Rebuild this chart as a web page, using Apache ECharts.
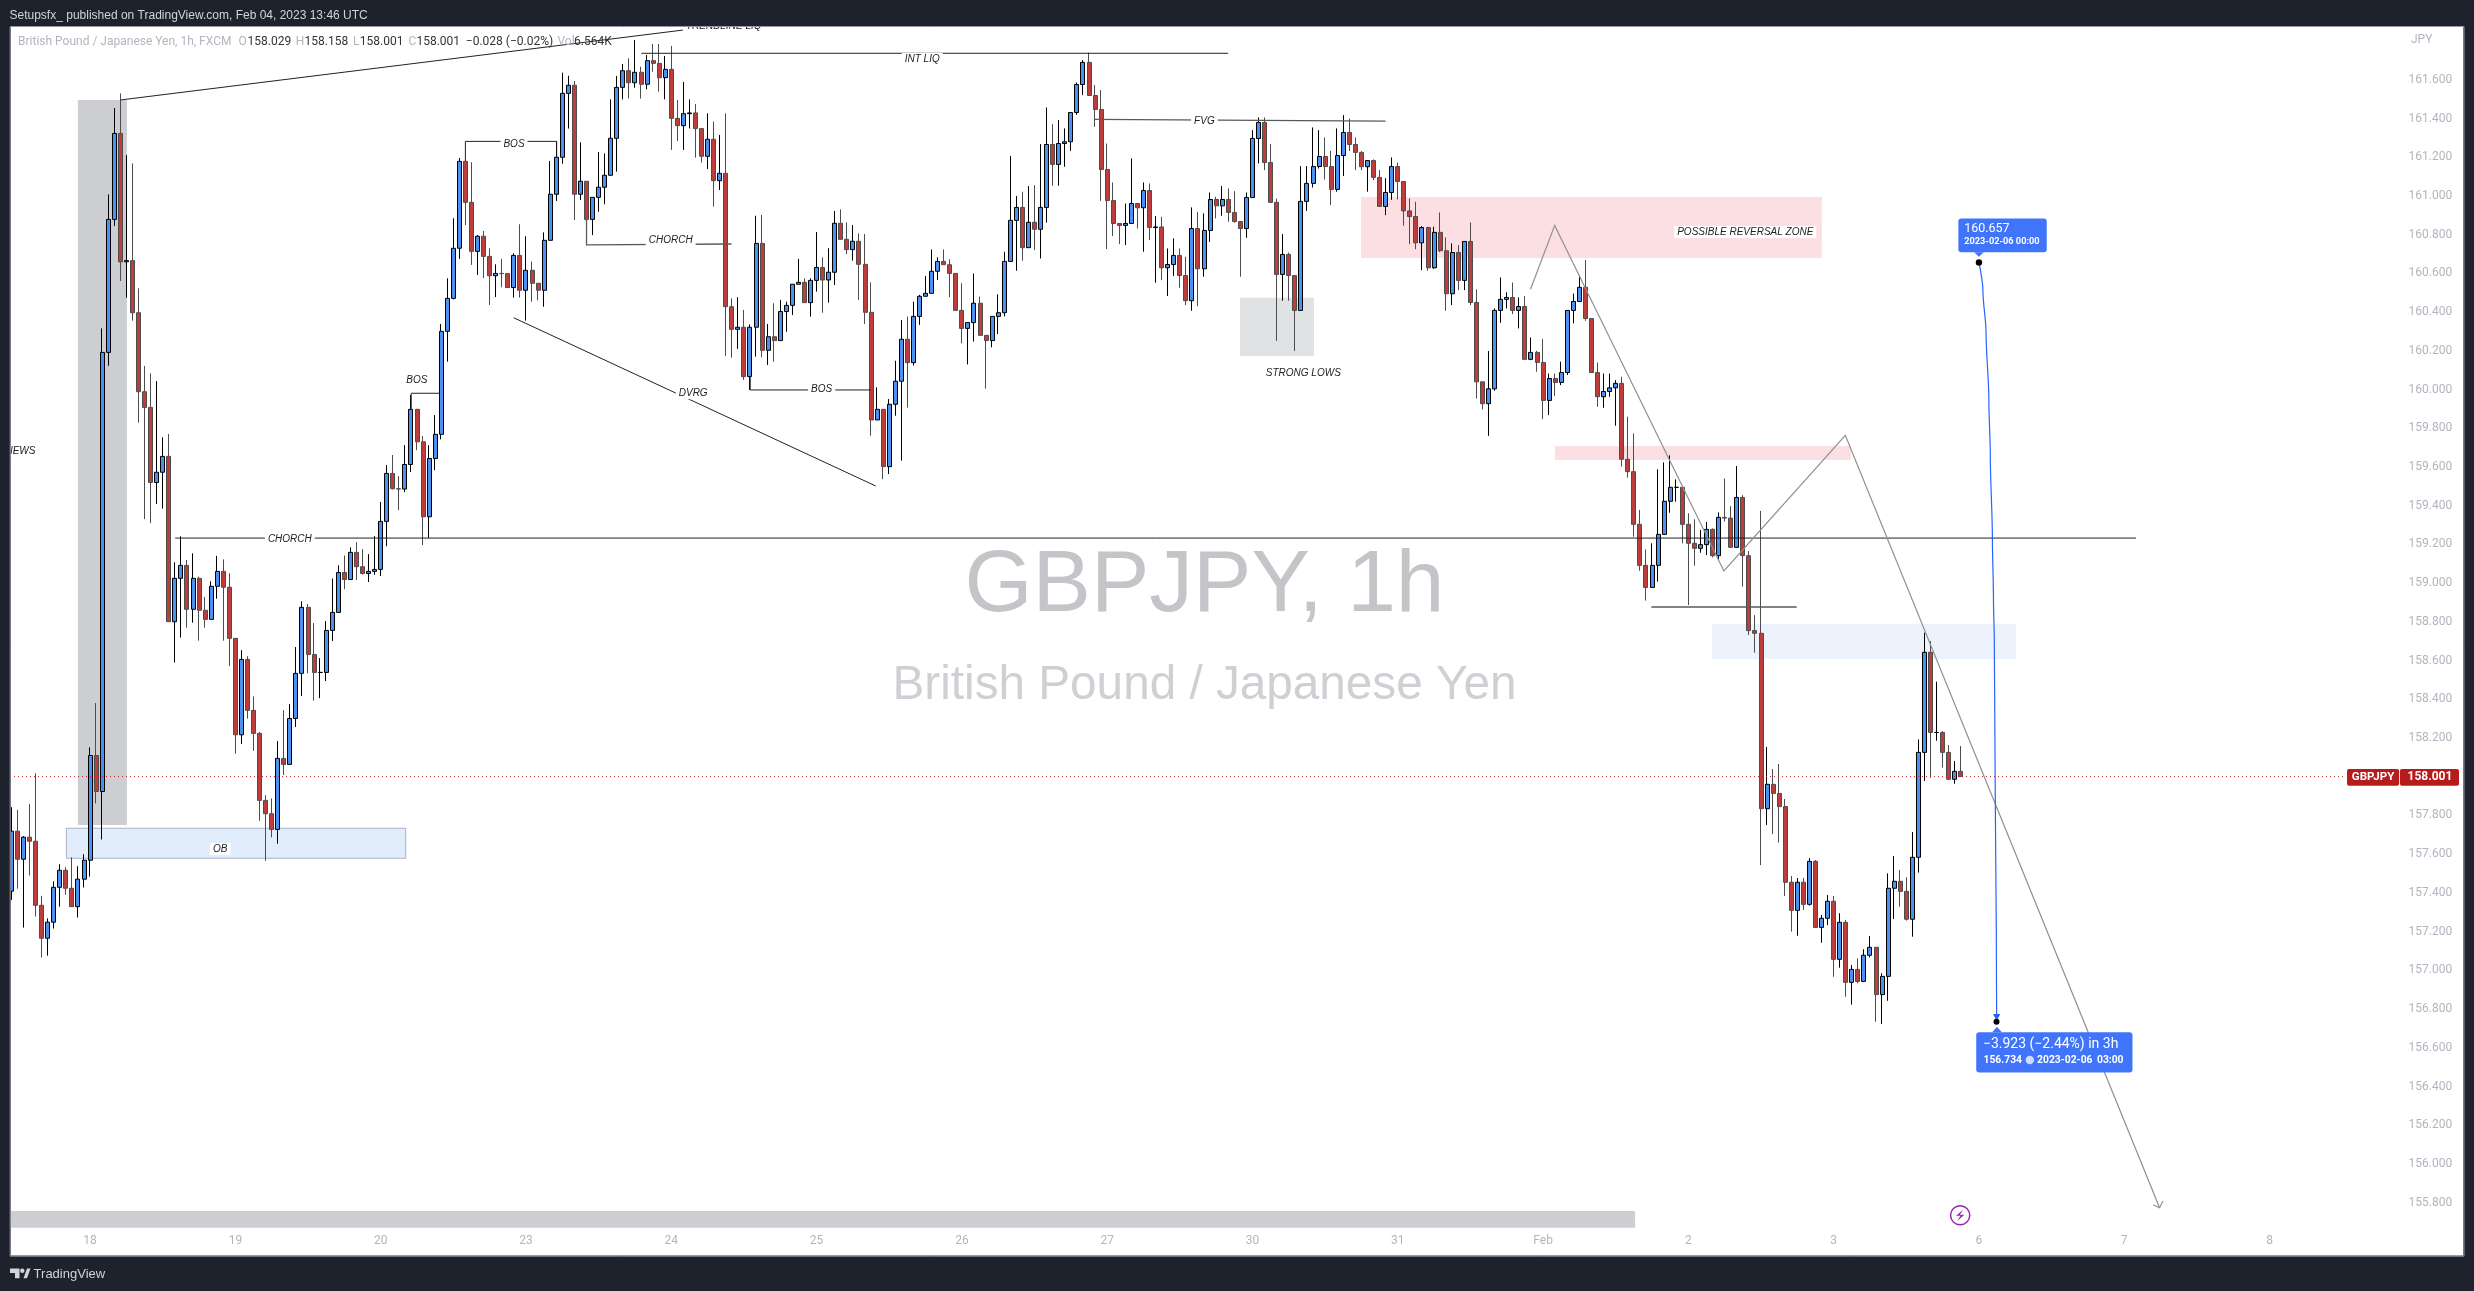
<!DOCTYPE html>
<html><head><meta charset="utf-8">
<style>html,body{margin:0;padding:0;background:#1e222d}#c{width:2474px;height:1291px}</style>
<script src="https://cdn.jsdelivr.net/npm/echarts@6/dist/echarts.min.js"></script>
</head><body><div id="c"></div>
<script>
// ---- price data: index 0 is the first hourly bar ----
const firstOpen = 157.409;
const closes = [157.719,157.574,157.688,157.667,157.336,157.166,157.249,157.429,157.517,157.424,157.329,157.471,157.569,158.110,157.924,160.192,160.879,161.323,160.660,160.666,160.397,159.989,159.908,159.520,159.573,159.655,158.801,159.025,159.092,158.865,159.025,158.860,158.813,158.984,159.061,158.979,158.715,158.217,158.606,158.343,158.224,157.878,157.809,157.728,158.095,158.064,158.301,158.534,158.875,158.632,158.539,158.539,158.756,158.849,159.055,159.019,159.159,159.085,159.050,159.061,159.071,159.319,159.567,159.488,159.486,159.613,159.898,159.730,159.343,159.644,159.769,160.301,160.471,160.730,161.179,160.967,160.714,160.792,160.688,160.588,160.600,160.599,160.527,160.693,160.513,160.616,160.549,160.513,160.771,161.009,161.200,161.530,161.572,161.009,161.076,160.879,160.993,161.045,161.107,161.298,161.561,161.647,161.585,161.639,161.577,161.699,161.685,161.611,161.654,161.401,161.363,161.425,161.429,161.348,161.205,161.293,161.079,161.117,160.428,160.311,160.322,160.067,160.322,160.755,160.203,160.273,160.253,160.403,160.435,160.544,160.554,160.449,160.564,160.631,160.566,160.606,160.859,160.776,160.723,160.766,160.647,160.399,159.843,159.898,159.602,159.924,160.043,160.260,160.139,160.378,160.482,160.497,160.611,160.662,160.645,160.600,160.409,160.316,160.346,160.446,160.280,160.253,160.378,160.397,160.662,160.874,160.941,160.733,160.864,160.828,160.941,161.266,161.163,161.271,161.280,161.431,161.576,161.690,161.519,161.447,161.137,160.977,160.858,160.848,160.858,160.961,160.939,161.028,160.837,160.840,160.629,160.646,160.693,160.589,160.459,160.832,160.624,160.822,160.982,160.949,160.982,160.915,160.868,160.832,160.992,161.297,161.380,161.173,160.967,160.595,160.698,160.589,160.409,160.972,161.065,161.152,161.204,161.152,161.034,161.209,161.328,161.266,161.225,161.151,161.183,161.096,160.946,161.018,161.152,161.075,160.923,160.894,160.758,160.837,160.629,160.812,160.717,160.495,160.708,160.564,160.765,160.450,160.040,159.927,160.004,160.409,160.466,160.476,160.409,160.429,160.156,160.192,160.140,159.944,160.057,160.037,160.088,160.409,160.455,160.528,160.367,160.088,159.963,159.990,160.009,160.032,159.640,159.576,159.304,159.092,158.978,159.092,159.252,159.423,159.495,159.495,159.304,159.206,159.180,159.199,159.278,159.142,159.340,159.336,159.185,159.443,159.142,158.755,158.741,157.835,157.961,157.914,157.846,157.455,157.310,157.455,157.341,157.563,157.222,157.269,157.357,157.057,157.248,156.938,157.005,156.943,157.078,157.119,156.875,156.969,157.424,157.460,157.408,157.264,157.584,158.126,158.643,158.229,158.229,158.126,157.987,158.028,158.001];
const highs = [157.843,157.829,157.694,157.860,158.018,157.385,157.269,157.460,157.548,157.533,157.584,157.538,157.600,158.152,158.381,160.316,161.008,161.454,161.530,161.211,161.168,160.523,160.122,160.084,160.044,159.753,159.771,159.108,159.242,159.120,159.154,159.034,158.929,159.010,159.141,159.123,159.051,158.715,158.654,158.623,158.415,158.231,157.905,157.888,158.184,158.344,158.375,158.670,158.907,158.892,158.794,158.613,158.804,159.024,159.092,159.143,159.185,159.212,159.176,159.150,159.243,159.419,159.610,159.662,159.553,159.713,159.972,159.900,159.760,159.713,159.868,160.339,160.575,160.885,161.196,161.179,161.174,160.798,160.819,160.730,160.647,160.675,160.600,160.704,160.854,160.792,160.661,160.549,160.812,161.181,161.281,161.637,161.621,161.594,161.277,161.076,160.993,161.227,161.220,161.499,161.620,161.682,161.711,161.806,161.668,161.728,161.785,161.785,161.723,161.775,161.496,161.589,161.499,161.475,161.348,161.427,161.384,161.315,161.427,160.471,160.477,160.411,160.337,160.898,160.902,160.339,160.446,160.463,160.454,160.544,160.675,160.575,160.575,160.814,160.683,160.730,160.923,160.931,160.864,160.850,160.807,160.804,160.554,160.012,159.898,159.951,160.149,160.359,160.377,160.454,160.489,160.587,160.724,160.683,160.724,160.673,160.600,160.549,160.346,160.600,160.480,160.280,160.378,160.492,160.712,161.207,161.000,161.022,161.051,161.056,161.268,161.457,161.371,161.392,161.349,161.431,161.586,161.702,161.741,161.573,161.547,161.271,161.070,160.858,160.961,161.194,160.961,161.070,161.065,160.896,160.892,160.729,160.781,160.729,160.686,160.941,160.918,160.910,161.018,160.996,161.051,161.039,161.025,160.868,161.018,161.340,161.406,161.406,161.268,160.987,160.803,160.708,160.589,161.154,161.154,161.354,161.340,161.302,161.233,161.349,161.418,161.400,161.302,161.232,161.183,161.189,161.134,161.092,161.199,161.173,161.075,160.987,160.970,160.844,160.841,160.841,160.915,160.786,160.755,160.746,160.765,160.863,160.517,160.040,160.199,160.419,160.579,160.502,160.553,160.476,160.483,160.269,160.200,160.261,160.083,160.083,160.144,160.409,160.496,160.591,160.669,160.367,160.140,160.083,160.083,160.049,160.066,159.860,159.774,159.378,159.175,159.206,159.588,159.624,159.660,159.536,159.495,159.361,159.330,159.275,159.316,159.283,159.366,159.541,159.398,159.605,159.455,159.166,158.835,159.373,158.154,158.040,158.066,157.885,157.487,157.477,157.477,157.580,157.570,157.286,157.389,157.384,157.295,157.260,157.028,157.062,157.109,157.177,157.119,156.985,157.501,157.591,157.518,157.481,157.715,158.193,158.744,158.701,158.491,158.236,158.164,158.081,158.159];
const lows = [157.364,157.422,157.221,157.490,157.278,157.066,157.076,157.216,157.329,157.391,157.329,157.273,157.428,157.484,157.862,157.676,160.123,160.845,160.561,160.474,160.356,159.829,159.331,159.310,159.409,159.385,158.801,158.590,158.719,158.770,158.796,158.703,158.770,158.813,158.920,158.703,158.572,158.119,158.169,158.300,158.134,157.773,157.566,157.687,157.654,158.009,158.064,158.257,158.417,158.534,158.393,158.406,158.494,158.701,158.849,158.969,159.019,159.016,159.045,159.006,159.043,159.037,159.191,159.484,159.377,159.470,159.574,159.687,159.197,159.234,159.584,159.743,160.144,160.466,160.675,160.850,160.644,160.592,160.575,160.437,160.478,160.528,160.527,160.475,160.475,160.356,160.454,160.461,160.428,160.771,160.974,161.167,161.348,160.876,160.979,160.747,160.798,160.919,160.957,161.104,161.126,161.499,161.504,161.559,161.503,161.551,161.642,161.539,161.499,161.238,161.284,161.238,161.349,161.198,161.172,161.139,160.945,161.031,160.174,160.165,160.210,160.050,159.998,160.170,160.167,160.127,160.144,160.253,160.299,160.385,160.544,160.449,160.377,160.506,160.397,160.449,160.540,160.776,160.700,160.666,160.463,160.339,159.762,159.843,159.537,159.564,159.865,159.633,159.907,160.124,160.334,160.482,160.497,160.566,160.645,160.477,160.409,160.239,160.130,160.248,160.280,160.005,160.218,160.287,160.378,160.660,160.614,160.666,160.733,160.721,160.677,160.862,161.053,161.053,161.151,161.233,161.419,161.521,161.519,161.357,160.975,160.726,160.793,160.751,160.746,160.855,160.832,160.712,160.772,160.552,160.565,160.483,160.586,160.526,160.436,160.407,160.431,160.583,160.763,160.884,160.898,160.867,160.862,160.583,160.784,160.992,161.168,161.134,160.967,160.252,160.459,160.459,160.200,160.409,160.923,161.044,161.142,161.085,160.953,161.022,161.103,161.232,161.134,161.134,161.022,161.082,160.946,160.901,160.980,160.982,160.846,160.751,160.725,160.617,160.614,160.624,160.710,160.407,160.436,160.514,160.514,160.436,159.954,159.897,159.761,159.994,160.345,160.419,160.390,160.316,160.156,160.152,160.092,159.847,159.868,159.966,160.023,160.075,160.342,160.455,160.355,160.088,159.911,159.906,159.963,159.813,159.602,159.545,159.240,159.064,158.910,158.978,159.008,159.252,159.364,159.421,159.206,158.887,159.090,159.157,159.145,159.133,159.120,159.318,159.185,159.185,158.982,158.732,158.641,157.544,157.751,157.704,157.660,157.384,157.200,157.179,157.312,157.334,157.222,157.143,157.234,156.967,157.014,156.864,156.823,156.933,156.943,157.067,156.735,156.723,156.843,157.265,157.329,157.257,157.174,157.505,157.978,157.995,158.186,158.047,157.983,157.964,158.001];

// ---- axes ----
const barSlots = 405;
const dayBars = [13,37,61,85,109,133,157,181,205,229,253,277,301,325,349,373];
const dayLabels = ['18','19','20','23','24','25','26','27','30','31','Feb','2','3','6','7','8'];
const priceMin = 155.6, priceMax = 161.8, priceStep = 0.2;
const lastPrice = 158.001;

// ---- drawn annotations, in [bar index, price] ----
const zoneNews = [[10.98,161.496],[19.08,157.751]];
const zoneOB = [[9.08,157.734],[65.13,157.579]];
const zoneLows = [[202.94,160.474],[215.16,160.173]];
const zoneReversal = [[222.93,160.995],[299.07,160.679]];
const zoneRetest = [[254.97,159.708],[303.87,159.636]];
const zoneDemand = [[280.9,158.789],[331.1,158.608]];
const zoneDates = [[-0.23,155.757],[268.2,155.671]];
const linesDark = [
  [[18.04,161.496],[110.93,161.857]],
  [[74.99,161.180],[74.99,161.282],[90.07,161.282],[90.07,161.201]],
  [[66.04,159.900],[66.04,159.981],[70.68,159.981]],
  [[27.06,159.233],[350.94,159.233]],
  [[82.97,160.371],[142.77,159.502]],
  [[122.04,160.066],[122.04,159.998],[141.96,159.998]],
  [[104.06,161.737],[200.99,161.737]]
];
const linesGrey = [
  [[95.0,160.881],[95.0,160.747],[118.96,160.752]],
  [[178.97,161.396],[226.98,161.387]],
  [[270.9,158.877],[294.9,158.877]]
];
const pathProjection = [[250.93,160.518],[254.92,160.848],[282.87,159.063],[302.93,159.764],[354.84,155.774]];
const arrowProjection = [[353.8,155.788],[354.84,155.774],[355.4,155.809]];
const pathForecast = [[325.0,160.657],[325.65,160.514],[326.18,160.290],[326.64,159.946],[326.88,159.653],[327.22,159.232],[327.4,158.913],[327.54,158.691],[327.7,157.880],[327.87,157.193],[327.93,156.734]];
const notes = [
  ['TRENDLINE LIQ',117.66,161.879],['BOS',83.02,161.268],['BOS',66.96,160.049],['CHORCH',45.99,159.228],
  ['OB',34.49,157.627],['DVRG',112.62,159.981],['CHORCH',108.9,160.772],['BOS',133.84,160.003],
  ['INT LIQ',150.45,161.707],['FVG',197.06,161.387],['STRONG LOWS',213.4,160.084],
  ['POSSIBLE REVERSAL ZONE',286.4,160.814],['NEWS',1.5,159.683]
];

const opens = closes.map((c,i)=> i===0 ? firstOpen : closes[i-1]);
const candles = closes.map((c,i)=>[opens[i],c,lows[i],highs[i]]);
const categories = Array.from({length:barSlots},(_,i)=>'h'+i);

const BLUE='#3f74fb', DARK='#1e222d', SANS='Roboto, "Liberation Sans", sans-serif', NOTE='italic 10px "Liberation Sans", sans-serif';

function shapes(z, items, draw){
  return {type:'custom',coordinateSystem:'cartesian2d',xAxisIndex:1,yAxisIndex:0,clip:false,silent:true,z,
    data:items.map(()=>[0,158]),encode:{x:0,y:1},
    renderItem:(p,api)=>draw(items[p.dataIndex],api)};
}
function box(api,c,style,r){
  const a=api.coord(c[0]),b=api.coord(c[1]);
  return {type:'rect',shape:{x:Math.min(a[0],b[0]),y:Math.min(a[1],b[1]),width:Math.abs(a[0]-b[0]),height:Math.abs(a[1]-b[1]),r:r||0},style};
}
function line(api,pts,stroke,w,dash){
  return {type:'polyline',shape:{points:pts.map(p=>api.coord(p))},style:{stroke,lineWidth:w,fill:null,lineDash:dash||null}};
}
function label(api,pos,text,style){
  const a=api.coord(pos);
  return {type:'text',x:a[0],y:a[1],style:Object.assign({text,verticalAlign:'middle'},style)};
}
const zoneStyles = [
  [zoneNews,{fill:'#cdced2'}],
  [zoneOB,{fill:'#e1edfb',stroke:'#a9b2c6',lineWidth:1}],
  [zoneLows,{fill:'#e1e2e4'}],
  [zoneReversal,{fill:'#fbdfe3'}],
  [zoneRetest,{fill:'#fbdfe3'}],
  [zoneDemand,{fill:'#ecf3fd'}],
  [zoneDates,{fill:'#cdced2'}]
];

const W=2474,H=1291,L=10.7,T=27,R=2463.5,B=1255.7;
const tx=(text,x,y,fill,font,extra)=>({type:'text',x,y,z:extra&&extra.z||101,silent:true,style:Object.assign({text,fill,font,verticalAlign:'middle'},extra&&extra.s||{})});
const legendFont='12px '+SANS;
const graphic=[
  {type:'rect',z:-2,silent:true,shape:{x:L,y:T,width:R-L,height:B-T},style:{fill:'#fff'}},
  tx('GBPJPY, 1h',1204.5,587,'#c4c5c9','87.5px "Liberation Sans", sans-serif',{z:-1,s:{align:'center'}}),
  tx('British Pound / Japanese Yen',1204.5,686,'#cfd0d4','47.7px "Liberation Sans", sans-serif',{z:-1,s:{align:'center'}}),
  {type:'rect',z:100,silent:true,shape:{x:0,y:0,width:W,height:T},style:{fill:DARK}},
  {type:'rect',z:100,silent:true,shape:{x:0,y:0,width:L,height:H},style:{fill:DARK}},
  {type:'rect',z:100,silent:true,shape:{x:R,y:0,width:W-R,height:H},style:{fill:DARK}},
  {type:'rect',z:100,silent:true,shape:{x:0,y:B,width:W,height:H-B},style:{fill:DARK}},
  {type:'rect',z:100,silent:true,shape:{x:L-0.5,y:T-0.5,width:R-L+1,height:B-T+1},style:{fill:null,stroke:'#9598a1',lineWidth:1}},
  tx('Setupsfx_ published on TradingView.com, Feb 04, 2023 13:46 UTC',9.5,15.5,'#d1d4dc','12px "Liberation Sans", sans-serif'),
  tx('British Pound / Japanese Yen, 1h, FXCM',18,42,'#b2b5be',legendFont),
  tx('O',238.4,42,'#b2b5be',legendFont),tx('158.029',247.5,42,'#333',legendFont),
  tx('H',295.8,42,'#b2b5be',legendFont),tx('158.158',304.5,42,'#333',legendFont),
  tx('L',353,42,'#b2b5be',legendFont),tx('158.001',359.8,42,'#333',legendFont),
  tx('C',408.5,42,'#b2b5be',legendFont),tx('158.001',416.4,42,'#333',legendFont),
  tx('\u22120.028 (\u22120.02%)',465.8,42,'#333',legendFont),
  tx('Vol',557.5,42,'#b2b5be',legendFont),tx('6.564K',574,42,'#333',legendFont),
  tx('JPY',2411,40,'#b2b5be','12px '+SANS),
  {type:'polygon',z:101,silent:true,shape:{points:[[10,1268.5],[19.5,1268.5],[19.5,1278.3],[15,1278.3],[15,1273],[10,1273]]},style:{fill:'#d1d4dc'}},
  {type:'circle',z:101,silent:true,shape:{cx:22.3,cy:1270.7,r:2.2},style:{fill:'#d1d4dc'}},
  {type:'polygon',z:101,silent:true,shape:{points:[[23.5,1278.3],[27,1268.5],[30.5,1268.5],[27,1278.3]]},style:{fill:'#d1d4dc'}},
  tx('TradingView',33.6,1274,'#d1d4dc','13px "Liberation Sans", sans-serif')
];

const chart=echarts.init(document.getElementById('c'),null,{renderer:'canvas'});
chart.setOption({
  animation:false,backgroundColor:DARK,tooltip:{show:false},graphic:{elements:graphic},
  grid:{left:8.37,top:41.1,width:barSlots*6.054,height:1200.3,containLabel:false},
  xAxis:[
    {type:'category',data:categories,boundaryGap:true,axisLine:{show:false},axisTick:{show:false},splitLine:{show:false},z:1,
     axisLabel:{interval:i=>dayBars.includes(i),margin:0,verticalAlign:'middle',color:'#b2b5be',fontFamily:'Roboto',fontSize:12,
       formatter:(v,i)=>{const k=dayBars.indexOf(i);return k<0?'':dayLabels[k];}}},
    {type:'value',min:-0.5,max:barSlots-0.5,show:false,scale:true}
  ],
  yAxis:[{type:'value',position:'right',min:priceMin,max:priceMax,interval:priceStep,scale:true,z:1,
    axisLine:{show:false},axisTick:{show:false},splitLine:{show:false},
    axisLabel:{inside:true,margin:8,color:'#b2b5be',fontFamily:'Roboto',fontSize:12,padding:[2,0,0,0],showMinLabel:false,showMaxLabel:false,
      formatter:v=>(v<155.7||v>161.7)?'':v.toFixed(3)}}],
  series:[
    shapes(1,zoneStyles,(z,api)=>box(api,z[0],z[1])),
    {type:'candlestick',xAxisIndex:0,yAxisIndex:0,data:candles,barWidth:4.5,clip:false,silent:true,z:2,large:false,progressive:0,
     itemStyle:{color:'#4a91f2',color0:'#bd3c3c',borderColor:'#000',borderColor0:'#4d4d4d',borderColorDoji:'#000',borderWidth:1}},
    shapes(3,linesDark,(p,api)=>line(api,p,'#222',1)),
    shapes(3,linesGrey,(p,api)=>line(api,p,'#5a5a5a',1.3)),
    shapes(3,[pathProjection,arrowProjection],(p,api)=>line(api,p,'#8f8f8f',1.2)),
    shapes(3,[0],(p,api)=>line(api,[[-0.23,lastPrice],[385.6,lastPrice]],'#b22833',1,[1,3])),
    shapes(4,notes,(n,api)=>label(api,[n[1],n[2]],n[0],{fill:'#222',font:NOTE,align:'center',backgroundColor:'#fff',padding:[1,3]})),
    // forecast tool
    {type:'line',xAxisIndex:1,yAxisIndex:0,data:pathForecast,smooth:0.3,smoothMonotone:'y',showSymbol:false,silent:true,clip:false,z:5,lineStyle:{color:'#2962ff',width:1.2}},
    shapes(6,[0],(p,api)=>({type:'group',children:[
      box(api,[[321.6,160.884],[336.2,160.709]],{fill:BLUE},3),
      {type:'polygon',shape:{points:[[324.2,160.709],[325.0,160.686],[325.8,160.709]].map(q=>api.coord(q))},style:{fill:BLUE}},
      {type:'circle',shape:{cx:api.coord([325,160.657])[0],cy:api.coord([325,160.657])[1],r:3.2},style:{fill:'#000'}},
      label(api,[322.56,160.831],'160.657',{fill:'#fff',font:'12.5px '+SANS}),
      label(api,[322.56,160.766],'2023-02-06 00:00',{fill:'#fff',font:'bold 9.2px '+SANS}),
      box(api,[[324.55,156.680],[350.36,156.473]],{fill:BLUE},3),
      {type:'polygon',shape:{points:[[327.2,156.680],[327.97,156.709],[328.8,156.680]].map(q=>api.coord(q))},style:{fill:BLUE}},
      {type:'polygon',shape:{points:[[327.33,156.775],[328.53,156.775],[327.93,156.740]].map(q=>api.coord(q))},style:{fill:'#2962ff'}},
      {type:'circle',shape:{cx:api.coord([327.9,156.734])[0],cy:api.coord([327.9,156.734])[1],r:3},style:{fill:'#000'}},
      label(api,[325.65,156.618],'\u22123.923 (\u22122.44%) in 3h',{fill:'#fff',font:'14px '+SANS}),
      label(api,[325.76,156.537],'156.734',{fill:'#fff',font:'bold 10.3px '+SANS}),
      {type:'circle',shape:{cx:api.coord([333.4,156.537])[0],cy:api.coord([333.4,156.537])[1],r:4.2},style:{fill:'#cfdcff'}},
      label(api,[334.6,156.537],'2023-02-06',{fill:'#fff',font:'bold 10.3px '+SANS}),
      label(api,[344.5,156.537],'03:00',{fill:'#fff',font:'bold 10.3px '+SANS}),
      // last-price tag
      box(api,[[385.8,158.040],[394.4,157.954]],{fill:'#b71c1c'},2),
      box(api,[[394.54,158.040],[404.3,157.954]],{fill:'#b71c1c'},2),
      label(api,[390.1,157.997],'GBPJPY',{fill:'#fff',font:'bold 11.5px '+SANS,align:'center'}),
      label(api,[399.5,157.997],'158.001',{fill:'#fff',font:'bold 12px '+SANS,align:'center'}),
      // lightning mark
      {type:'circle',shape:{cx:api.coord([321.9,155.735])[0],cy:api.coord([321.9,155.735])[1],r:9.6},style:{fill:null,stroke:'#9c27b0',lineWidth:1.5}},
      {type:'polygon',shape:{points:[[322.4,155.764],[321.2,155.733],[321.95,155.733],[321.4,155.706],[322.6,155.738],[321.85,155.738]].map(q=>api.coord(q))},style:{fill:'#9c27b0'}}
    ]}))
  ]
});
</script></body></html>
